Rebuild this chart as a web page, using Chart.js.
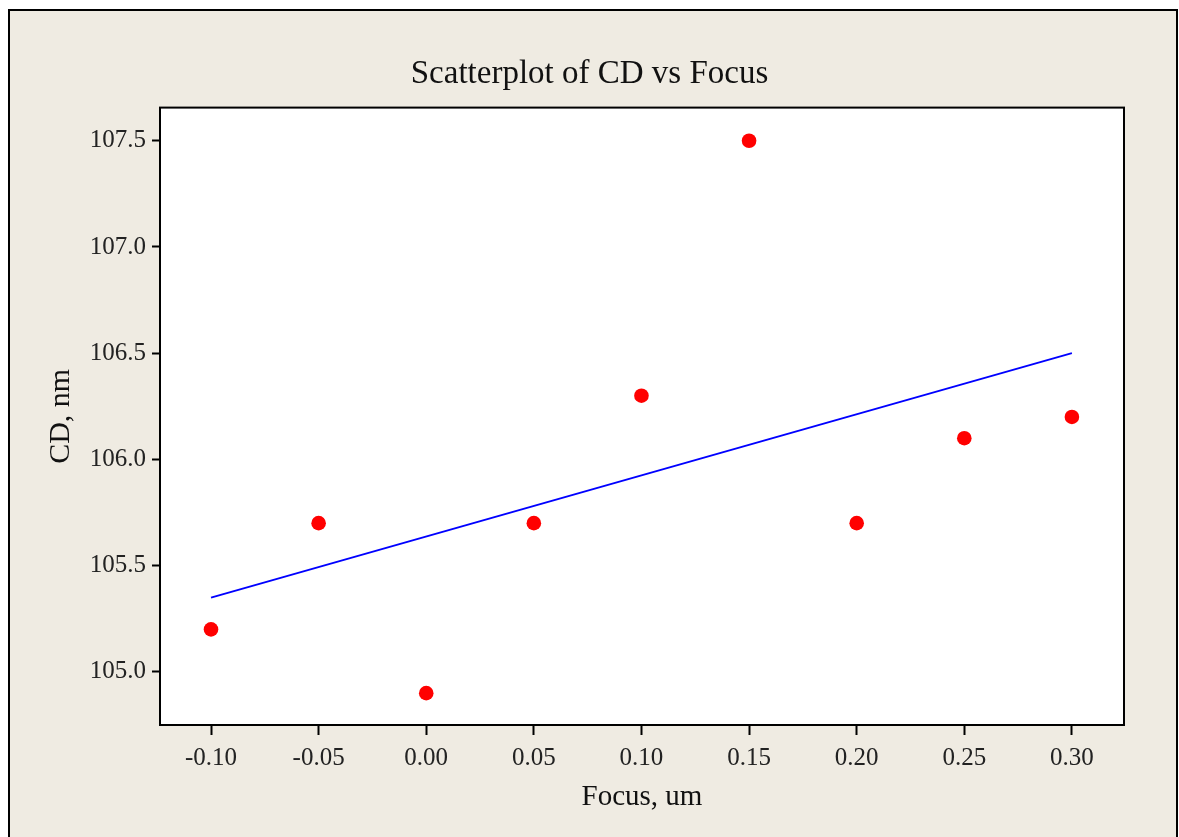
<!DOCTYPE html>
<html>
<head>
<meta charset="utf-8">
<title>Scatterplot of CD vs Focus</title>
<script src="https://cdn.jsdelivr.net/npm/chart.js@4.4.1/dist/chart.umd.min.js"></script>
<style>
  html, body { margin: 0; padding: 0; background: #ffffff; }
  #wrap { width: 1179px; height: 837px; position: relative; }
</style>
</head>
<body>
<div id="wrap"><canvas id="cdChart"></canvas></div>
<script>
// measured data
const focus = [-0.10, -0.05, 0.00, 0.05, 0.10, 0.15, 0.20, 0.25, 0.30];
const cd = [105.2, 105.7, 104.9, 105.7, 106.3, 107.5, 105.7, 106.1, 106.2];

// fitted line end points
const fitX = [-0.10, 0.30];
const fitY = [105.35, 106.50];

// tick labels
const xTicks = [-0.10, -0.05, 0.00, 0.05, 0.10, 0.15, 0.20, 0.25, 0.30];
const yTicks = [105.0, 105.5, 106.0, 106.5, 107.0, 107.5];

const serif = "'Liberation Serif', 'DejaVu Serif', serif";
const beige = '#efebe2';

// page background, outer frame and white plot box
const framePlugin = {
    id: 'frame',
    beforeDraw(chart) {
        const c = chart.ctx;
        const a = chart.chartArea;
        c.save();
        c.fillStyle = '#ffffff';
        c.fillRect(0, 0, chart.width, chart.height);
        c.fillStyle = beige;
        c.fillRect(9, 10, 1168, chart.height);
        c.strokeStyle = '#000000';
        c.lineWidth = 2;
        c.beginPath();
        c.moveTo(9, chart.height + 2);
        c.lineTo(9, 10);
        c.lineTo(1177, 10);
        c.lineTo(1177, chart.height + 2);
        c.stroke();
        c.fillStyle = '#ffffff';
        c.fillRect(a.left, a.top, a.right - a.left, a.bottom - a.top);
        c.restore();
    },
    afterDatasetsDraw(chart) {
        const c = chart.ctx;
        const a = chart.chartArea;
        c.save();
        c.strokeStyle = '#000000';
        c.lineWidth = 2;
        c.strokeRect(a.left, a.top, a.right - a.left, a.bottom - a.top);
        c.restore();
    }
};

const ctx = document.getElementById('cdChart').getContext('2d');
const cdChart = new Chart(ctx, {
    type: 'scatter',
    data: {
        datasets: [{
            label: 'CD',
            data: focus.map((f, i) => ({x: f, y: cd[i]})),
            backgroundColor: '#ff0000',
            borderColor: '#ff0000',
            pointRadius: 7.3,
            pointHoverRadius: 7.3,
            borderWidth: 0
        }, {
            label: 'Fit',
            type: 'line',
            data: fitX.map((f, i) => ({x: f, y: fitY[i]})),
            borderColor: '#0000ff',
            borderWidth: 1.8,
            pointRadius: 0,
            fill: false,
            tension: 0
        }]
    },
    options: {
        responsive: true,
        maintainAspectRatio: false,
        animation: false,
        layout: {
            padding: 0
        },
        scales: {
            x: {
                type: 'linear',
                min: -0.1237,
                max: 0.3242,
                afterBuildTicks(scale) {
                    scale.ticks = xTicks.map(v => ({value: v}));
                },
                afterFit(scale) { scale.height = 112; },
                grid: {
                    drawOnChartArea: false,
                    drawTicks: true,
                    tickLength: 10,
                    tickWidth: 2,
                    tickColor: '#000000'
                },
                border: { display: true, color: '#000000', width: 2 },
                ticks: {
                    color: '#222222',
                    font: { family: serif, size: 25 },
                    padding: 8,
                    maxRotation: 0,
                    autoSkip: false,
                    callback: v => v.toFixed(2)
                },
                title: {
                    display: true,
                    text: 'Focus, um',
                    color: '#111111',
                    font: { family: serif, size: 29 },
                    padding: { top: 0, bottom: 22 }
                }
            },
            y: {
                type: 'linear',
                min: 104.75,
                max: 107.656,
                afterBuildTicks(scale) {
                    scale.ticks = yTicks.map(v => ({value: v}));
                },
                afterFit(scale) { scale.width = 160; },
                grid: {
                    drawOnChartArea: false,
                    drawTicks: true,
                    tickLength: 8,
                    tickWidth: 2,
                    tickColor: '#000000'
                },
                border: { display: true, color: '#000000', width: 2 },
                ticks: {
                    color: '#222222',
                    font: { family: serif, size: 25 },
                    padding: 6,
                    autoSkip: false,
                    callback: v => v.toFixed(1)
                },
                title: {
                    display: true,
                    text: 'CD, nm',
                    color: '#111111',
                    font: { family: serif, size: 30 },
                    padding: { top: 43, bottom: 0 }
                }
            },
            // empty strip on the right of the plot box
            yRight: {
                type: 'linear',
                position: 'right',
                afterFit(scale) { scale.width = 55; },
                grid: { display: false },
                border: { display: false },
                ticks: { display: false }
            }
        },
        plugins: {
            legend: { display: false },
            tooltip: { enabled: false },
            title: {
                display: true,
                text: 'Scatterplot of CD vs Focus',
                color: '#111111',
                font: { family: serif, size: 33, weight: 'normal' },
                padding: { top: 55, bottom: 13 }
            }
        }
    },
    plugins: [framePlugin]
});
</script>
</body>
</html>
